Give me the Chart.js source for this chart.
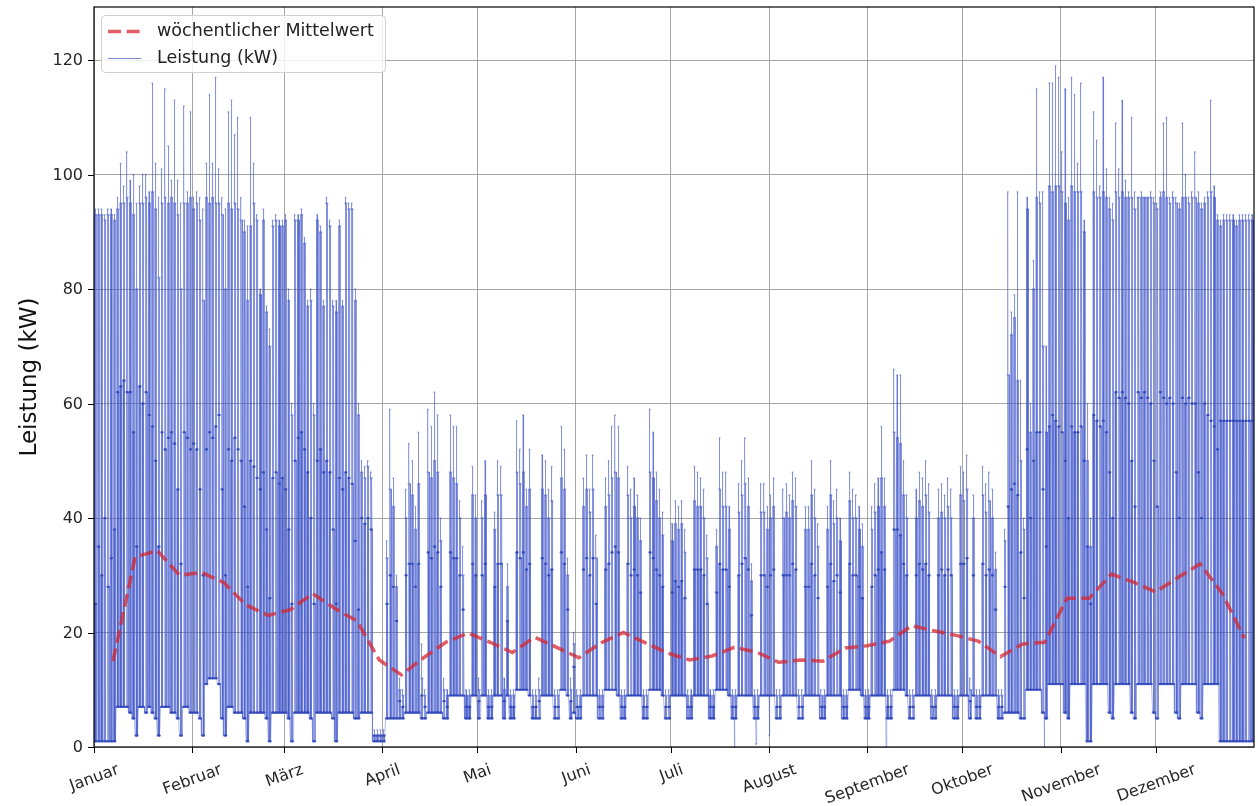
<!DOCTYPE html>
<html>
<head>
<meta charset="utf-8">
<script src="https://cdn.jsdelivr.net/npm/chart.js@4.4.0/dist/chart.umd.min.js"></script>
<style>
  html, body { margin: 0; padding: 0; background: #fff; }
  canvas { display: block; }
</style>
</head>
<body>
<canvas id="lastgang" width="1258" height="806"></canvas>
<script>
// Monate (Schaltjahr, Tag 0 = 1. Januar, Montag)
const monate = ['Januar', 'Februar', 'März', 'April', 'Mai', 'Juni', 'Juli', 'August', 'September', 'Oktober', 'November', 'Dezember'];
const monatsAnfang = [0, 31, 60, 91, 121, 152, 182, 213, 244, 274, 305, 335];
const yTicks = [0, 20, 40, 60, 80, 100, 120];

// wöchentlicher Mittelwert (jeweils Sonntag)
const wochenTag = [6, 13, 20, 27, 34, 41, 48, 55, 62, 69, 76, 83, 90, 97, 104, 111, 118, 125, 132, 139, 146, 153, 160, 167, 174, 181,
  188, 195, 202, 209, 216, 223, 230, 237, 244, 251, 258, 265, 272, 279, 286, 293, 300, 307, 314, 321, 328, 335, 342, 349, 356, 363];
const wochenMittel = [15.0, 33.2, 34.3, 30.0, 30.5, 28.7, 24.8, 23.0, 24.0, 26.8, 24.2, 22.0, 15.2, 12.6, 15.6, 18.3, 19.9, 18.3, 16.5, 19.2, 17.4, 15.6, 18.2, 20.0, 18.2, 16.4,
  15.2, 15.9, 17.4, 16.6, 14.8, 15.2, 15.0, 17.3, 17.7, 18.5, 21.2, 20.3, 19.5, 18.5, 15.8, 18.0, 18.3, 26.0, 26.0, 30.2, 28.8, 27.1, 29.6, 32.0, 26.8, 19.0];

// Tageswerte in kW, eine Zeile pro Woche (Mo..So)
const tagesSpitze = [
  94,94,94,93,94,94,93, 96,102,98,104,99,100,95, 98,100,100,97,116,102,96, 101,115,105,99,113,99,95,
  112,97,111,96,97,96,94, 102,114,102,117,101,96,94, 111,113,107,110,96,92,91, 110,102,93,80,94,77,73,
  92,93,92,92,93,80,60, 93,93,94,89,78,80,60, 93,91,78,96,92,78,78, 92,78,96,95,95,80,60,
  50,49,50,48,3,3,3, 3,36,59,47,30,12,10, 45,53,50,42,55,18,10, 59,56,62,58,40,12,10,
  58,56,56,43,35,10,10, 49,44,12,43,50,10,10, 41,50,49,12,32,10,10, 57,52,58,45,52,10,10,
  12,51,50,45,49,10,10, 56,52,33,12,20,10,10, 47,51,45,51,37,10,10, 47,50,56,58,56,10,10,
  49,45,47,44,40,10,10, 59,55,48,45,41,10,10, 39,43,42,43,38,10,10, 49,48,47,45,37,10,10,
  38,54,48,48,42,10,10, 46,50,54,47,32,10,10, 46,46,42,44,47,10,10, 45,46,44,48,47,10,10,
  42,42,50,45,39,10,10, 42,50,43,45,40,10,10, 48,45,44,42,39,10,10, 42,46,47,56,47,10,10,
  66,65,65,50,44,10,10, 45,48,47,50,46,10,10, 45,46,44,47,45,10,10, 49,48,51,12,44,10,10,
  49,46,48,45,34,10,10, 38,97,76,79,97,64,40, 96,60,85,115,97,97,70, 116,116,119,117,104,115,96,
  117,114,102,116,92,60,40, 111,106,98,117,101,96,95, 109,101,113,99,97,110,97, 96,97,96,96,97,96,95,
  97,109,110,96,97,96,95, 109,100,96,97,104,97,95, 96,97,113,98,93,92,93, 93,93,93,92,93,93,93,
  93,93
];
const tagesNiveau = [
  93,93,93,92,93,93,92, 94,95,95,96,95,93,80, 95,95,96,95,97,94,82, 95,96,95,96,95,93,80,
  95,95,96,94,95,92,78, 96,95,96,95,95,93,80, 95,94,95,94,92,90,78, 91,95,92,79,92,76,70,
  91,92,91,91,92,78,58, 92,92,93,88,77,78,58, 92,90,77,95,91,77,76, 91,77,95,94,94,78,58,
  48,47,49,47,2,2,2, 2,33,45,42,28,10,9, 40,46,44,38,46,12,9, 48,47,50,48,36,10,9,
  48,47,46,40,30,9,9, 44,40,10,40,44,9,9, 38,44,44,10,28,9,9, 48,46,48,42,45,9,9,
  10,45,44,40,43,9,9, 47,45,30,10,18,9,9, 42,45,41,45,33,9,9, 42,44,47,48,47,9,9,
  44,40,42,40,36,9,9, 48,47,43,40,37,9,9, 36,39,38,39,34,9,9, 43,42,42,40,33,9,9,
  35,45,42,42,38,9,9, 41,44,46,42,29,9,9, 41,41,38,40,42,9,9, 40,41,40,43,42,9,9,
  38,38,44,40,35,9,9, 38,44,39,40,36,9,9, 43,40,40,38,35,9,9, 38,41,42,47,42,9,9,
  55,54,53,44,40,9,9, 40,43,42,44,41,9,9, 40,41,40,42,40,9,9, 44,43,45,10,40,9,9,
  44,41,43,40,31,9,9, 36,65,72,75,64,50,38, 94,55,80,96,95,70,55, 98,97,98,98,97,95,92,
  98,97,97,97,90,50,35, 97,96,96,97,96,94,92, 97,96,97,96,96,96,94, 96,96,96,96,96,95,94,
  96,97,96,95,96,95,94, 96,96,95,96,96,95,94, 95,96,97,96,92,91,92, 92,92,92,91,92,92,92,
  92,92
];
const tagesMittel = [
  25,35,30,40,28,33,38, 62,63,64,62,62,55,35, 63,60,62,58,56,50,35, 55,52,54,55,53,45,32,
  55,54,52,53,52,45,30, 52,55,54,56,58,45,30, 52,50,54,52,50,42,28, 50,49,47,45,48,38,26,
  47,48,46,47,45,38,25, 50,54,55,52,48,40,25, 50,52,48,50,48,38,25, 47,45,48,47,46,36,24,
  40,39,40,38,2,2,2, 2,25,30,28,22,8,7, 30,32,32,28,32,9,7, 34,33,35,34,28,8,7,
  34,33,33,30,24,7,7, 32,30,8,30,32,7,7, 28,32,32,8,22,7,7, 34,33,34,31,32,7,7,
  8,33,32,30,31,7,7, 34,32,24,8,14,7,7, 31,33,30,33,25,7,7, 31,32,34,35,34,7,7,
  32,30,31,30,27,7,7, 34,33,31,30,28,7,7, 27,29,28,29,26,7,7, 31,31,31,30,25,7,7,
  27,32,31,31,28,7,7, 30,32,33,31,23,7,7, 30,30,28,30,31,7,7, 30,30,30,32,31,7,7,
  28,28,32,30,26,7,7, 28,32,29,30,27,7,7, 32,30,30,28,26,7,7, 28,30,31,34,31,7,7,
  38,38,37,32,30,7,7, 30,32,31,32,30,7,7, 30,31,30,31,30,7,7, 32,32,33,8,30,7,7,
  32,30,31,30,24,7,7, 28,42,45,46,44,34,26, 52,40,50,55,55,45,35, 56,58,57,56,55,50,40,
  56,55,55,56,50,35,25, 58,57,56,57,55,48,40, 62,61,62,61,60,50,42, 62,61,62,61,60,50,42,
  62,61,60,61,60,48,40, 61,60,61,60,60,48,40, 60,58,57,56,52,57,57, 57,57,57,57,57,57,57,
  57,57
];
const nachtGrund = [
  1,1,1,1,1,1,1, 7,7,7,7,6,5,2, 7,7,6,7,6,5,2, 7,7,7,6,6,5,2,
  7,7,6,6,6,5,2, 11,12,12,12,11,5,2, 7,7,6,6,6,5,1, 6,6,6,6,6,5,1,
  6,6,6,6,6,5,1, 6,6,6,6,6,5,1, 6,6,6,6,6,5,1, 6,6,6,6,6,5,5,
  6,6,6,6,1,1,1, 1,5,5,5,5,5,5, 6,6,6,6,6,5,5, 6,6,6,6,6,5,5,
  9,9,9,9,9,5,5, 9,9,5,9,9,5,5, 9,9,9,5,9,5,5, 10,10,10,10,9,5,5,
  5,9,9,9,9,5,5, 10,10,9,5,6,5,5, 9,9,9,9,9,5,5, 10,10,10,10,9,5,5,
  9,9,9,9,9,5,5, 10,10,10,10,9,5,5, 9,9,9,9,9,5,5, 9,9,9,9,9,5,5,
  10,10,10,10,9,5,5, 9,9,9,9,9,5,5, 9,9,9,9,9,5,5, 9,9,9,9,9,5,5,
  9,9,9,9,9,5,5, 9,9,9,9,9,5,5, 10,10,10,10,9,5,5, 9,9,9,9,9,5,5,
  10,10,10,10,9,5,5, 9,9,9,9,9,5,5, 9,9,9,9,9,5,5, 9,9,9,5,9,5,5,
  9,9,9,9,9,5,5, 6,6,6,6,6,5,5, 10,10,10,10,10,6,5, 11,11,11,11,11,6,5,
  11,11,11,11,11,1,1, 11,11,11,11,11,6,5, 11,11,11,11,11,6,5, 11,11,11,11,11,6,5,
  11,11,11,11,11,6,5, 11,11,11,11,11,6,5, 11,11,11,11,11,1,1, 1,1,1,1,1,1,1,
  1,1
];
// einzelne Einbrüche auf 0
const ausreisserTag = [202.0, 208.9, 213.0, 249.9, 299.9];
const ausreisserWert = [0, 0.5, 2, 0, 0];

// Ablauf eines Tages: Tageszeit (Anteil) -> Stufe
const tagesAblauf = [
  [0.00, 'g'], [0.14, 'g'], [0.17, 'm'], [0.20, 'g'], [0.23, 'n'], [0.26, 'm'], [0.29, 'g'], [0.32, 'm'],
  [0.35, 'g'], [0.38, 's'], [0.41, 'm'], [0.44, 'g'], [0.47, 'm'], [0.50, 'g'], [0.53, 'm'], [0.56, 'g'],
  [0.59, 'm'], [0.62, 'g'], [0.65, 'm'], [0.68, 'g'], [0.71, 'n'], [0.74, 'm'], [0.77, 'g'], [0.80, 'g']
];

const stufen = { g: nachtGrund, m: tagesMittel, n: tagesNiveau, s: tagesSpitze };
const leistung = [];
for (let d = 0; d < tagesSpitze.length; d++) {
  tagesAblauf.forEach(([t, k]) => leistung.push({ x: d + t, y: stufen[k][d] }));
}
ausreisserTag.forEach((t, i) => leistung.push({ x: t, y: ausreisserWert[i] }));
leistung.sort((a, b) => a.x - b.x);

const mittelwert = wochenTag.map((d, i) => ({ x: d, y: wochenMittel[i] }));

const blau = 'rgba(60, 82, 200, 0.4)';
const rot = 'rgba(214, 39, 50, 0.75)';

const achsen = {
  id: 'achsen',
  afterDraw(chart) {
    const { ctx, chartArea: a, scales: { x, y } } = chart;
    ctx.save();
    ctx.strokeStyle = '#000';
    ctx.lineWidth = 1.2;
    ctx.strokeRect(a.left, a.top, a.right - a.left, a.bottom - a.top);

    ctx.font = '16px "DejaVu Sans"';
    ctx.fillStyle = '#262626';
    ctx.lineWidth = 1;
    ctx.textAlign = 'right';
    ctx.textBaseline = 'middle';
    yTicks.forEach(v => {
      const py = Math.round(y.getPixelForValue(v)) + 0.5;
      ctx.beginPath(); ctx.moveTo(a.left - 6, py); ctx.lineTo(a.left, py); ctx.stroke();
      ctx.fillText(String(v), a.left - 11, py);
    });

    const rotW = 20 * Math.PI / 180;
    monatsAnfang.forEach((v, i) => {
      const px = Math.round(x.getPixelForValue(v)) + 0.5;
      ctx.beginPath(); ctx.moveTo(px, a.bottom); ctx.lineTo(px, a.bottom + 6); ctx.stroke();
      const w = ctx.measureText(monate[i]).width;
      const hb = w * Math.sin(rotW) + 18 * Math.cos(rotW);
      ctx.save();
      ctx.translate(px, a.bottom + 14 + hb / 2);
      ctx.rotate(-rotW);
      ctx.textAlign = 'center';
      ctx.fillText(monate[i], 0, 0);
      ctx.restore();
    });

    // Achsentitel
    ctx.save();
    ctx.translate(30, (a.top + a.bottom) / 2);
    ctx.rotate(-Math.PI / 2);
    ctx.textAlign = 'center';
    ctx.font = '23px "DejaVu Sans"';
    ctx.fillStyle = '#111';
    ctx.fillText('Leistung (kW)', 0, 0);
    ctx.restore();

    // Legende
    ctx.beginPath();
    ctx.roundRect(101.5, 15.5, 284, 57, 4);
    ctx.fillStyle = 'rgba(255,255,255,0.82)';
    ctx.fill();
    ctx.strokeStyle = '#d0d0d0';
    ctx.stroke();

    ctx.strokeStyle = rot;
    ctx.lineWidth = 3.5;
    ctx.setLineDash([13, 5.6]);
    ctx.beginPath(); ctx.moveTo(108, 31.5); ctx.lineTo(141, 31.5); ctx.stroke();
    ctx.setLineDash([]);
    ctx.strokeStyle = 'rgba(60, 82, 200, 0.7)';
    ctx.lineWidth = 1;
    ctx.beginPath(); ctx.moveTo(108, 58.5); ctx.lineTo(141, 58.5); ctx.stroke();

    ctx.font = '17.5px "DejaVu Sans"';
    ctx.fillStyle = '#222';
    ctx.textAlign = 'left';
    ctx.fillText('wöchentlicher Mittelwert', 157, 31.5);
    ctx.fillText('Leistung (kW)', 157, 58);
    ctx.restore();
  }
};

const gitter = { color: 'rgba(150,150,150,0.85)', lineWidth: 1, drawTicks: false };

new Chart(document.getElementById('lastgang'), {
  type: 'line',
  data: {
    datasets: [
      {
        label: 'wöchentlicher Mittelwert',
        data: mittelwert,
        borderColor: rot,
        borderWidth: 3.5,
        borderDash: [13, 5.6],
        pointRadius: 0,
        tension: 0
      },
      {
        label: 'Leistung (kW)',
        data: leistung,
        borderColor: blau,
        borderWidth: 1,
        pointRadius: 1.1,
        pointBorderWidth: 0,
        pointBackgroundColor: 'rgba(45, 70, 185, 0.3)',
        tension: 0
      }
    ]
  },
  options: {
    responsive: false,
    animation: false,
    devicePixelRatio: 1,
    parsing: false,
    layout: { padding: { left: 94, right: 2, top: 7, bottom: 59 } },
    plugins: { legend: { display: false }, tooltip: { enabled: false }, title: { display: false } },
    scales: {
      x: {
        type: 'linear', min: 0, max: 366,
        afterBuildTicks: s => { s.ticks = monatsAnfang.map(v => ({ value: v })); },
        ticks: { display: false },
        grid: gitter,
        border: { display: false }
      },
      y: {
        type: 'linear', min: 0, max: 129.3,
        afterBuildTicks: s => { s.ticks = yTicks.map(v => ({ value: v })); },
        ticks: { display: false },
        grid: gitter,
        border: { display: false }
      }
    }
  },
  plugins: [achsen]
});
</script>
</body>
</html>
